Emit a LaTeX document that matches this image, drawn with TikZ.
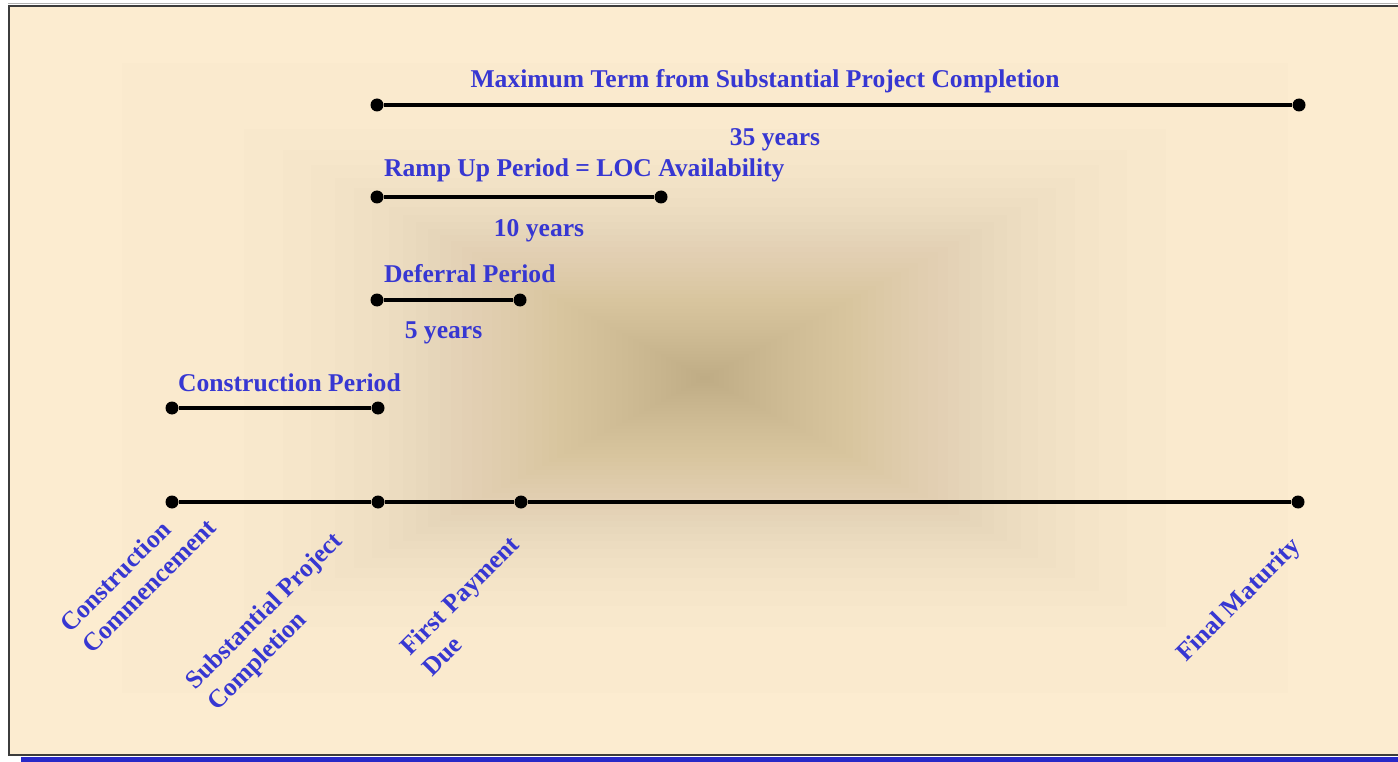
\documentclass[tikz,border=0pt]{standalone}
\usepackage{fontspec}
\setmainfont{Liberation Serif}
\definecolor{bgfill}{RGB}{252,236,208}
\definecolor{shadecol}{RGB}{180,158,108}
\definecolor{txtblue}{RGB}{55,55,210}
\definecolor{bandblue}{RGB}{40,40,200}
\definecolor{framecol}{RGB}{60,60,60}
\tikzset{
  dot/.style={circle,fill=black,inner sep=0pt,minimum size=13pt},
  seg/.style={line width=4pt,black},
  lbl/.style={text=txtblue,font=\fontsize{25.6}{30.5}\selectfont\bfseries,inner sep=0pt},
  rlbl/.style={lbl,rotate=45,align=left,anchor=base west}
}
\begin{document}
\begin{tikzpicture}[x=1pt,y=-1pt]
\useasboundingbox (0,0) rectangle (1398,762);
% background box
\fill[bgfill] (9,6) rectangle (1398,755);
\begin{scope}
\clip (9,6) rectangle (1398,755);
\foreach \i in {0,...,49}{
  \pgfmathsetmacro{\r}{1-(\i/50)^(0.4)}
  \fill[shadecol,fill opacity=0.02] ({705-583*\r},{378-315*\r}) rectangle ({705+583*\r},{378+315*\r});
}
\end{scope}
\draw[gray!60,line width=1pt] (8,3.5) -- (1398,3.5);
\draw[framecol,line width=2pt] (1398,6) -- (9,6) -- (9,755) -- (1398,755);
\fill[bandblue] (21,756.5) rectangle (1398,762);

% points
\node[dot] (t1) at (377,105) {};
\node[dot] (t2) at (1299,105) {};
\node[dot] (r1) at (377,197) {};
\node[dot] (r2) at (661,197) {};
\node[dot] (d1) at (377,300) {};
\node[dot] (d2) at (520,300) {};
\node[dot] (c1) at (172,408) {};
\node[dot] (c2) at (378,408) {};
\node[dot] (a1) at (172,502) {};
\node[dot] (a2) at (378,502) {};
\node[dot] (a3) at (521,502) {};
\node[dot] (a4) at (1298,502) {};

\draw[seg] (t1) -- (t2);
\draw[seg] (r1) -- (r2);
\draw[seg] (d1) -- (d2);
\draw[seg] (c1) -- (c2);
\draw[seg] (a1) -- (a2);
\draw[seg] (a2) -- (a3);
\draw[seg] (a3) -- (a4);

% labels
\node[lbl,anchor=base] (lmax) at (765,88) {Maximum Term from Substantial Project Completion};
\node[lbl,anchor=base] (l35) at (775,146) {35 years};
\node[lbl,anchor=base west] (lramp) at (384,177) {Ramp Up Period = LOC Availability};
\node[lbl,anchor=base] (l10) at (539,236.5) {10 years};
\node[lbl,anchor=base west] (ldef) at (384,283) {Deferral Period};
\node[lbl,anchor=base] (l5) at (443.5,338) {5 years};
\node[lbl,anchor=base west] (lcon) at (178,391.5) {Construction Period};

\node[rlbl] (pcc) at (92,655) {Construction\\Commencement};
\node[rlbl] (psp) at (217,712) {Substantial Project\\Completion};
\node[rlbl] (pfp) at (432,678) {First Payment\\Due};
\node[rlbl] (pfm) at (1186,663) {Final Maturity};
\end{tikzpicture}
\end{document}
